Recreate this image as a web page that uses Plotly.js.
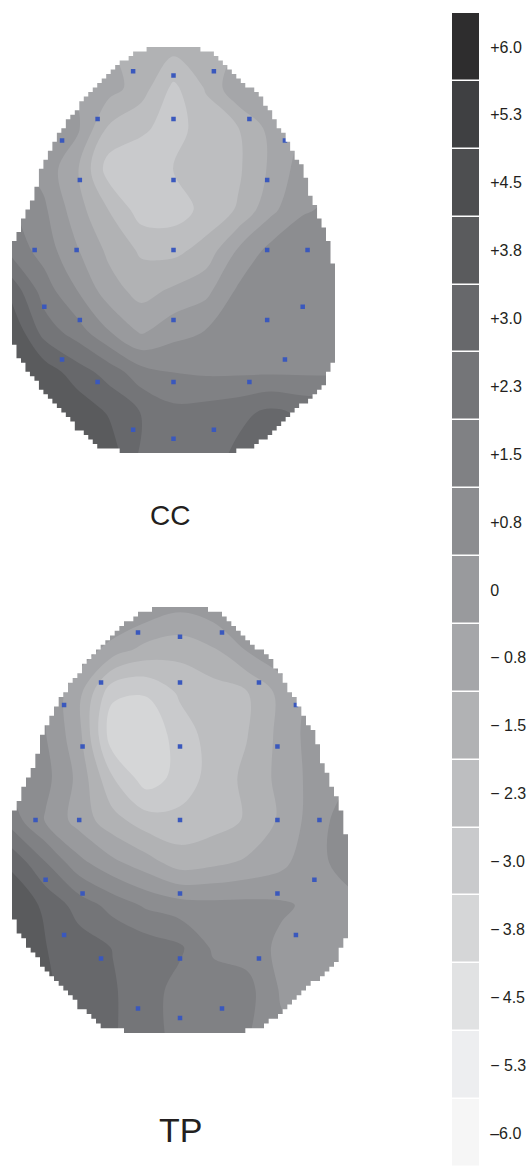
<!DOCTYPE html>
<html><head><meta charset="utf-8">
<script src="https://cdn.plot.ly/plotly-3.0.1.min.js"></script>
<style>html,body{margin:0;padding:0;background:#fff}#chart{width:530px;height:1168px}</style>
</head><body><div id="chart"></div>
<script>
// ---------- data ----------
const mapTitles = ['CC', 'TP'];
const gridX = [-1, -0.8, -0.6, -0.4, -0.2, 0, 0.2, 0.4, 0.6, 0.8, 1];
const gridY = [1, 0.8, 0.6, 0.4, 0.2, 0, -0.2, -0.4, -0.6, -0.8, -1];   // rows top -> bottom

const ccValues = [
  [-0.5, -0.7, -0.9, -1.1, -1.4, -1.6, -1.4, -1.1, -0.8, -0.6, -0.4],
  [-0.2, -0.3, -0.5, -0.8, -1.5, -2.8, -1.8, -0.5, -0.3, -0.2, -0.1],
  [ 0.6,  0.4, -0.2, -2.0, -2.5, -2.9, -2.3, -1.9, -0.9, -0.2,  0.0],
  [ 0.8,  0.1, -1.0, -3.0, -3.1, -2.6, -2.4, -2.0, -1.0,  0.0,  0.3],
  [ 1.2,  0.5, -0.8, -1.9, -3.0, -3.0, -2.4, -1.8, -0.6,  0.3,  0.5],
  [ 1.6,  0.8, -0.3, -1.3, -2.0, -2.1, -1.6, -0.3,  0.6,  0.8,  0.9],
  [ 3.1,  1.5,  0.4, -0.8, -1.4, -1.0, -0.6,  0.5,  0.8,  0.9,  1.0],
  [ 4.0,  2.3,  1.5,  0.4, -0.5,  0.1,  0.4,  0.6,  0.8,  0.9,  1.0],
  [ 4.0,  3.8,  3.0,  2.3,  1.4,  1.1,  1.0,  1.0,  1.0,  1.0,  1.0],
  [ 4.0,  4.0,  3.9,  3.3,  2.6,  2.1,  2.2,  2.4,  2.8,  2.5,  2.4],
  [ 4.0,  4.0,  3.9,  3.8,  2.5,  2.0,  2.2,  2.8,  3.0,  2.8,  2.6]
];
const tpValues = [
  [ 1.0,  0.9,  0.8,  0.6,  0.2, -0.2,  0.1,  0.5,  0.7,  0.8,  0.9],
  [ 0.6,  0.4,  0.1, -0.7, -1.4, -1.6, -1.2, -0.3,  0.3,  0.5,  0.6],
  [ 0.6,  0.3, -0.9, -3.2, -3.3, -2.5, -2.2, -1.9, -0.9,  0.0,  0.3],
  [ 0.8,  0.4, -0.9, -3.9, -4.0, -3.0, -2.3, -1.9, -0.9,  0.0,  0.4],
  [ 1.0,  0.6, -0.6, -2.6, -3.8, -3.1, -2.3, -1.7, -0.9, -0.1,  0.3],
  [ 1.5,  0.3, -0.7, -1.6, -2.3, -2.4, -2.2, -1.8, -1.0,  0.0,  0.8],
  [ 3.2,  1.9,  0.6, -0.2, -0.8, -1.5, -1.3, -1.0, -0.6,  0.2,  0.6],
  [ 4.0,  3.2,  2.3,  1.6,  1.0,  0.7,  0.6,  0.6,  0.5,  0.2,  0.2],
  [ 4.0,  3.4,  3.0,  2.6,  2.3,  2.0,  1.0,  0.8,  0.2,  0.0,  0.0],
  [ 4.0,  3.5,  3.0,  2.7,  2.2,  1.6,  1.5,  1.4,  0.3,  0.0,  0.0],
  [ 4.0,  3.5,  3.0,  2.7,  2.2,  1.6,  1.5,  1.2,  0.5,  0.2,  0.2]
];

// electrode positions (normalised head coordinates)
const electrodeX = [-0.25, 0, 0.25, -0.47, 0, 0.47, -0.69, 0.69, -0.58, 0, 0.58,
  -0.86, -0.6, 0, 0.58, 0.83, -0.8, -0.58, 0, 0.58, 0.8, -0.69, 0.69, -0.47, 0, 0.47, -0.25, 0.25, 0];
const electrodeY = [0.88, 0.86, 0.88, 0.645, 0.645, 0.645, 0.54, 0.54, 0.345, 0.345, 0.345,
  0, 0, 0, 0, 0, -0.28, -0.345, -0.345, -0.345, -0.28, -0.54, -0.54, -0.65, -0.65, -0.65, -0.885, -0.885, -0.93];

// head outline (normalised)
const headY     = [1.0, 0.975, 0.877, 0.739, 0.542, 0.409, 0.246, 0.034, -0.084, -0.443, -0.542, -0.655, -0.773, -0.887, -0.97, -1.0];
const headLeft  = [-0.11, -0.24, -0.393, -0.56, -0.734, -0.814, -0.876, -0.994, -1, -1, -0.95, -0.845, -0.715, -0.59, -0.455, -0.257];
const headRight = [0.12, 0.226, 0.368, 0.554, 0.703, 0.796, 0.858, 0.969, 0.988, 1, 0.988, 0.938, 0.783, 0.641, 0.492, 0.35];

// colour bar levels
const levelValues = [6, 5.25, 4.5, 3.75, 3, 2.25, 1.5, 0.75, 0, -0.75, -1.5, -2.25, -3, -3.75, -4.5, -5.25, -6];
const levelLabels = ['+6.0', '+5.3', '+4.5', '+3.8', '+3.0', '+2.3', '+1.5', '+0.8', '0',
  '\u2212 0.8', '\u2212 1.5', '\u2212 2.3', '\u2212\u20093.0', '\u2212\u20093.8', '\u2212\u20094.5', '\u2212 5.3', '\u20136.0'];
const levelColors = ['#2e2d2e', '#3f4042', '#4d4e50', '#5a5b5d', '#67686b', '#747578', '#808184', '#8c8d90',
  '#999a9d', '#a5a6a9', '#b1b2b4', '#bdbec0', '#c9cacc', '#d5d6d7', '#e1e2e3', '#edeef0', '#f6f6f6'];

// ---------- build ----------
const vMin = Math.min(...levelValues), vMax = Math.max(...levelValues);
const step = levelValues[0] - levelValues[1];
const colorscale = levelValues.map((v, i) => [(v - vMin) / (vMax - vMin), levelColors[i]])
  .sort((a, b) => a[0] - b[0]);

function interp(y, ys, xs) {
  for (let i = 0; i < ys.length - 1; i++) {
    if (y <= ys[i] && y >= ys[i + 1]) {
      const t = (ys[i] - y) / (ys[i] - ys[i + 1]);
      return xs[i] + t * (xs[i + 1] - xs[i]);
    }
  }
  return y > ys[0] ? xs[0] : xs[xs.length - 1];
}
function maskPath() {
  const nRows = 90, sx = 2 / 72, dy = 2 / nRows;
  const R = 1.2;
  let p = `M${-R},${-R} L${R},${-R} L${R},${R} L${-R},${R} Z `;
  const L = [], Rt = [], yt = [], yb = [];
  for (let i = 0; i < nRows; i++) {
    const t = 1 - i * dy, b = t - dy, c = (t + b) / 2;
    L.push(Math.round(interp(c, headY, headLeft) / sx) * sx);
    Rt.push(Math.round(interp(c, headY, headRight) / sx) * sx);
    yt.push(t); yb.push(b);
  }
  p += `M${L[0]},${yt[0]}`;
  for (let i = 0; i < nRows; i++) p += ` L${Rt[i]},${yt[i]} L${Rt[i]},${yb[i]}`;
  for (let i = nRows - 1; i >= 0; i--) p += ` L${L[i]},${yb[i]} L${L[i]},${yt[i]}`;
  return p + ' Z';
}

const yAsc = gridY.slice().reverse();
function contourTrace(vals, xa, ya) {
  return {
    type: 'contour', x: gridX, y: yAsc, z: vals.slice().reverse(),
    xaxis: xa, yaxis: ya, autocontour: false,
    contours: {start: vMin + step / 2, end: vMax - step / 2, size: step, coloring: 'fill', showlines: false},
    line: {width: 0, smoothing: 1}, colorscale: colorscale, showscale: false, hoverinfo: 'skip'
  };
}
function electrodeTrace(xa, ya) {
  return {
    type: 'scatter', mode: 'markers', x: electrodeX, y: electrodeY, xaxis: xa, yaxis: ya,
    marker: {symbol: 'square', size: 4.5, color: '#3a58bd'}, hoverinfo: 'skip', showlegend: false
  };
}
const levAsc = levelValues.slice().reverse();
const bar = {
  type: 'heatmap', x: [0], y: levAsc, z: levAsc.map(v => [v]), zmin: vMin, zmax: vMax,
  colorscale: colorscale, showscale: false, ygap: 1.5, xaxis: 'x3', yaxis: 'y3', hoverinfo: 'skip'
};

const W = 530, H = 1168;
// pixel frames of the two maps: centre x, half width, centre y, half height
const frames = [[173.5, 161.5, 250, 203], [180, 168, 820, 213]];
const ext = 1.05;
function axes(f, id) {
  const [cx, hw, cy, hh] = f;
  return [
    {domain: [(cx - hw * ext) / W, (cx + hw * ext) / W], range: [-ext, ext], visible: false, anchor: 'y' + id, fixedrange: true},
    {domain: [1 - (cy + hh * ext) / H, 1 - (cy - hh * ext) / H], range: [-ext, ext], visible: false, anchor: 'x' + id, fixedrange: true}
  ];
}
const a1 = axes(frames[0], ''), a2 = axes(frames[1], '2');
const mp = maskPath();
const font = 'Liberation Sans, Arial, sans-serif';

const layout = {
  width: W, height: H, margin: {l: 0, r: 0, t: 0, b: 0},
  paper_bgcolor: '#fff', plot_bgcolor: '#fff', showlegend: false,
  xaxis: a1[0], yaxis: a1[1], xaxis2: a2[0], yaxis2: a2[1],
  xaxis3: {domain: [452 / W, 479 / W], range: [-0.5, 0.5], visible: false, anchor: 'y3', fixedrange: true},
  yaxis3: {domain: [1 - 1167 / H, 1 - 13 / H], range: [vMin - step / 2, vMax + step / 2], anchor: 'x3', side: 'right',
    tickvals: levelValues, ticktext: levelLabels, ticks: 'outside', ticklen: 7, tickcolor: 'rgba(0,0,0,0)',
    showgrid: false, zeroline: false, showline: false, fixedrange: true,
    tickfont: {family: font, size: 16, color: '#231f20'}},
  shapes: [
    {type: 'path', xref: 'x', yref: 'y', path: mp, fillcolor: '#fff', fillrule: 'evenodd', line: {width: 0}, layer: 'above'},
    {type: 'path', xref: 'x2', yref: 'y2', path: mp, fillcolor: '#fff', fillrule: 'evenodd', line: {width: 0}, layer: 'above'}
  ],
  annotations: [
    {text: mapTitles[0], xref: 'paper', yref: 'paper', x: 170 / W, y: 1 - 515 / H, showarrow: false,
      xanchor: 'center', yanchor: 'middle', font: {family: font, size: 28, color: '#231f20'}},
    {text: mapTitles[1], xref: 'paper', yref: 'paper', x: 180 / W, y: 1 - 1130 / H, showarrow: false,
      xanchor: 'center', yanchor: 'middle', font: {family: font, size: 34, color: '#231f20'}}
  ]
};

const data = [
  contourTrace(ccValues, 'x', 'y'), contourTrace(tpValues, 'x2', 'y2'),
  electrodeTrace('x', 'y'), electrodeTrace('x2', 'y2'), bar
];
Plotly.newPlot('chart', data, layout, {displayModeBar: false, staticPlot: true});
</script></body></html>
